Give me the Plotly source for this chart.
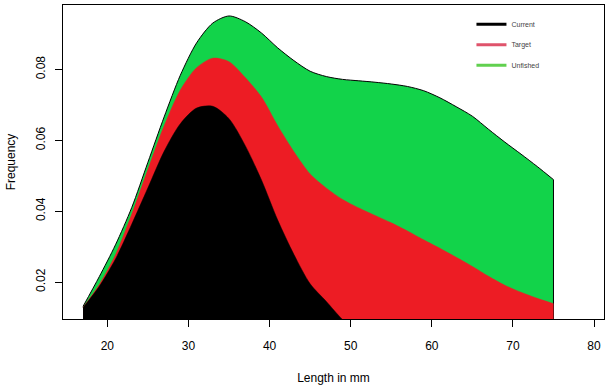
import plotly.graph_objects as go

# Length bins (mm)
length_mm = [17, 19, 21, 23, 25, 27, 29, 31, 33, 35, 37, 39, 41, 43, 45, 47,
             49, 51, 53, 55, 57, 59, 61, 63, 65, 67, 69, 71, 73, 75]

# Frequency curves
unfished = [0.0131, 0.0215, 0.0305, 0.0410, 0.0538, 0.0666, 0.0784, 0.0875,
            0.0931, 0.0951, 0.0935, 0.0903, 0.0861, 0.0825, 0.0795, 0.0780,
            0.0772, 0.0768, 0.0764, 0.0759, 0.0752, 0.0740, 0.0720, 0.0695,
            0.0668, 0.0631, 0.0595, 0.0561, 0.0526, 0.0489]
target = [0.0128, 0.0193, 0.0277, 0.0391, 0.0518, 0.0641, 0.0742, 0.0805,
          0.0832, 0.0822, 0.0777, 0.0722, 0.0641, 0.0568, 0.0505, 0.0465,
          0.0433, 0.0409, 0.0388, 0.0367, 0.0344, 0.0319, 0.0295, 0.0270,
          0.0244, 0.0216, 0.0191, 0.0171, 0.0154, 0.0139]
current = [0.0128, 0.0188, 0.0265, 0.0363, 0.0466, 0.0569, 0.0647, 0.0691,
           0.0696, 0.0661, 0.0585, 0.0488, 0.0375, 0.0278, 0.0195, 0.0145,
           0.0094, 0.0058, 0.0032, 0.0016, 0.0008, 0.0004, 0.0002, 0.0001,
           0.0001, 0.0, 0.0, 0.0, 0.0, 0.0]

legend_names = ["Current", "Target", "Unfished"]
legend_colors = ["#000000", "#DF536B", "#61D04F"]

y_ticks = [0.02, 0.04, 0.06, 0.08]
y_tick_text = ["0.02", "0.04", "0.06", "0.08"]
x_ticks = [20, 30, 40, 50, 60, 70, 80]

FONT = "Liberation Sans, Arial, sans-serif"

fig = go.Figure()

fig.add_trace(go.Scatter(x=length_mm, y=unfished, mode="lines", fill="tozeroy",
                         fillcolor="#12D34A",
                         line=dict(color="black", width=1, shape="spline", smoothing=0.8),
                         showlegend=False, hoverinfo="skip"))
# right edge of the unfished polygon outline
fig.add_trace(go.Scatter(x=[length_mm[-1], length_mm[-1]], y=[unfished[-1], 0],
                         mode="lines", line=dict(color="black", width=1),
                         showlegend=False, hoverinfo="skip"))
fig.add_trace(go.Scatter(x=length_mm, y=target, mode="lines", fill="tozeroy",
                         fillcolor="#ED1C24",
                         line=dict(color="#ED1C24", width=0.5, shape="spline", smoothing=0.8),
                         showlegend=False, hoverinfo="skip"))
fig.add_trace(go.Scatter(x=length_mm, y=current, mode="lines", fill="tozeroy",
                         fillcolor="#000000",
                         line=dict(color="#000000", width=0.5, shape="spline", smoothing=0.8),
                         showlegend=False, hoverinfo="skip"))

for i, (name, col) in enumerate(zip(legend_names, legend_colors)):
    fig.add_trace(go.Scatter(x=[None], y=[None], mode="lines", name=name,
                             legendgroup=f"g{i}",
                             line=dict(color=col, width=3)))

axis_common = dict(showgrid=False, zeroline=False, showline=True, mirror=True,
                   linecolor="black", linewidth=1, ticks="outside", ticklen=7,
                   tickcolor="black", tickwidth=1,
                   tickfont=dict(family=FONT, size=12, color="black"),
                   automargin=False)

fig.update_layout(
    width=613, height=387,
    margin=dict(l=63, r=9, t=5, b=68),
    paper_bgcolor="white", plot_bgcolor="white",
    font=dict(family=FONT, size=12, color="black"),
    xaxis=dict(range=[14.53, 81.23], tickvals=x_ticks, ticklabelstandoff=9,
               title=dict(text="Length in mm", standoff=21,
                          font=dict(family=FONT, size=12)),
               **axis_common),
    yaxis=dict(range=[0.00956, 0.0982], tickvals=y_ticks, ticktext=y_tick_text,
               tickangle=-90, ticklabelstandoff=5,
               title=dict(text="Frequency", standoff=16,
                          font=dict(family=FONT, size=12)),
               **axis_common),
    legend=dict(x=0.755, y=0.985, xanchor="left", yanchor="top",
                bgcolor="rgba(0,0,0,0)", borderwidth=0,
                font=dict(family=FONT, size=7, color="#444444"),
                tracegroupgap=1.5, itemwidth=30),
    showlegend=True,
)

fig.write_html("out.html", config={"displayModeBar": False},
               post_script="document.body.style.margin='0';document.body.style.overflow='hidden';")
